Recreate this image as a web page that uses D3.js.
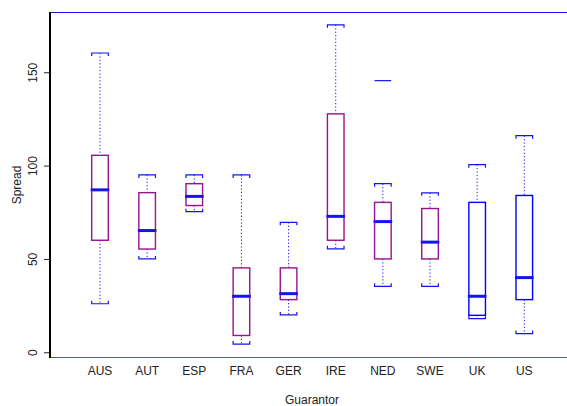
<!DOCTYPE html>
<html>
<head>
<meta charset="utf-8">
<script src="https://cdnjs.cloudflare.com/ajax/libs/d3/7.8.5/d3.min.js"></script>
<style>
  body { margin: 0; background: #fff; }
  text { font-family: "Liberation Sans", Arial, sans-serif; fill: #222; }
</style>
</head>
<body>
<svg id="chart" width="567" height="406"></svg>
<script>
// values
var guarantors = ["AUS", "AUT", "ESP", "FRA", "GER", "IRE", "NED", "SWE", "UK", "US"];
var whiskerLow  = [26, 50, 75.3, 4.4, 20, 55.4, 35.3, 35.3, 18, 10];
var boxLow      = [60, 55.3, 78.6, 9, 28.2, 60, 50, 50, 19.8, 28.2];
var medians     = [87, 65.2, 83.5, 30, 31.4, 72.8, 70, 59, 30, 40];
var boxHigh     = [105.5, 85.5, 90.3, 45.2, 45.2, 127.7, 80.3, 77, 80.3, 84];
var whiskerHigh = [160.3, 95, 95, 95, 69.6, 175.4, 90.3, 85.4, 100.5, 116];
var outliers    = [{g: "NED", v: 145.5}];
var boxColors   = ["#99128e", "#99128e", "#99128e", "#99128e", "#99128e",
                   "#99128e", "#99128e", "#99128e", "blue", "blue"];
var yTicks = [0, 50, 100, 150];

var blue = "#1414f0";
var svg = d3.select("#chart");

// plot region edges (note: "top" is taken by window.top)
var plotLeft = 50, plotTop = 12.5, plotBottom = 357.5;

// y in R style: data range padded by 4%
let yScale = d3.scaleLinear()
  .domain([-2.8, 182])
  .range([plotBottom, plotTop]);

// box positions 1..10
let xScale = d3.scaleLinear()
  .domain([1, 10])
  .range([100, 524.3]);

var data = guarantors.map(function(g, i) {
  return { g: g, i: i + 1, wl: whiskerLow[i], bl: boxLow[i], med: medians[i],
           bh: boxHigh[i], wh: whiskerHigh[i], col: boxColors[i] };
});

var half = 8.3;

// frame lines: top and bottom blue
svg.append("line")
  .attr("x1", plotLeft).attr("x2", 567)
  .attr("y1", plotTop).attr("y2", plotTop)
  .attr("stroke", blue).attr("stroke-width", 1.2);
svg.append("line")
  .attr("x1", plotLeft).attr("x2", 567)
  .attr("y1", plotBottom).attr("y2", plotBottom)
  .attr("stroke", "#5050f0").attr("stroke-width", 1.2);

var boxes = svg.append("g").selectAll("g")
  .data(data)
  .enter()
  .append("g");

// dotted whiskers
boxes.append("line")
  .attr("x1", d => xScale(d.i)).attr("x2", d => xScale(d.i))
  .attr("y1", d => yScale(d.wh)).attr("y2", d => yScale(d.bh))
  .attr("stroke", blue).attr("stroke-width", 1)
  .attr("stroke-dasharray", "1.2,2.2");
boxes.append("line")
  .attr("x1", d => xScale(d.i)).attr("x2", d => xScale(d.i))
  .attr("y1", d => yScale(d.bl)).attr("y2", d => yScale(d.wl))
  .attr("stroke", blue).attr("stroke-width", 1)
  .attr("stroke-dasharray", "1.2,2.2");

// caps, with small brackets at the ends
boxes.append("path")
  .attr("d", function(d) {
    var x = xScale(d.i), y = yScale(d.wh);
    return "M" + (x - half) + "," + (y + 3) + "V" + y + "H" + (x + half) + "V" + (y + 3);
  })
  .attr("fill", "none").attr("stroke", blue).attr("stroke-width", 1.2);
boxes.append("path")
  .attr("d", function(d) {
    var x = xScale(d.i), y = yScale(d.wl);
    return "M" + (x - half) + "," + (y - 3) + "V" + y + "H" + (x + half) + "V" + (y - 3);
  })
  .attr("fill", "none").attr("stroke", blue).attr("stroke-width", 1.2);

// boxes
boxes.append("rect")
  .attr("x", d => xScale(d.i) - half)
  .attr("width", half * 2)
  .attr("y", d => yScale(d.bh))
  .attr("height", d => yScale(d.bl) - yScale(d.bh))
  .attr("fill", "white")
  .attr("stroke", d => d.col)
  .attr("stroke-width", 1.4);

// medians
boxes.append("line")
  .attr("x1", d => xScale(d.i) - half - 1).attr("x2", d => xScale(d.i) + half + 1)
  .attr("y1", d => yScale(d.med)).attr("y2", d => yScale(d.med))
  .attr("stroke", blue).attr("stroke-width", 3);

// outliers drawn as short dashes
svg.append("g").selectAll("line")
  .data(outliers)
  .enter()
  .append("line")
  .attr("x1", d => xScale(guarantors.indexOf(d.g) + 1) - half)
  .attr("x2", d => xScale(guarantors.indexOf(d.g) + 1) + half)
  .attr("y1", d => yScale(d.v)).attr("y2", d => yScale(d.v))
  .attr("stroke", blue).attr("stroke-width", 1.2);

// y axis
let yAxis = d3.axisLeft(yScale)
  .tickValues(yTicks)
  .tickSize(6)
  .tickSizeOuter(0)
  .tickFormat(d3.format("d"));
var yg = svg.append("g")
  .attr("transform", "translate(" + plotLeft + ",0)")
  .call(yAxis);
yg.select(".domain").remove();
yg.selectAll(".tick line").attr("stroke", "#222");
yg.selectAll(".tick text")
  .attr("x", 0).attr("dy", 0)
  .attr("transform", "translate(-13,0) rotate(-90)")
  .attr("text-anchor", "middle")
  .attr("font-size", 12)
  .attr("font-family", "Liberation Sans, Arial, sans-serif")
  .attr("fill", "#222");
svg.append("line")
  .attr("x1", plotLeft).attr("x2", plotLeft)
  .attr("y1", plotTop - 0.6).attr("y2", plotBottom + 0.6)
  .attr("stroke", "black").attr("stroke-width", 2);

// x labels
svg.append("g").selectAll("text")
  .data(guarantors)
  .enter()
  .append("text")
  .attr("x", (d, i) => xScale(i + 1))
  .attr("y", 374.5)
  .attr("text-anchor", "middle")
  .attr("font-size", 12)
  .text(d => d);

svg.append("text")
  .attr("x", 312).attr("y", 403.5)
  .attr("text-anchor", "middle")
  .attr("font-size", 12)
  .text("Guarantor");

svg.append("text")
  .attr("transform", "translate(21,185) rotate(-90)")
  .attr("text-anchor", "middle")
  .attr("font-size", 12)
  .text("Spread");
</script>
</body>
</html>
